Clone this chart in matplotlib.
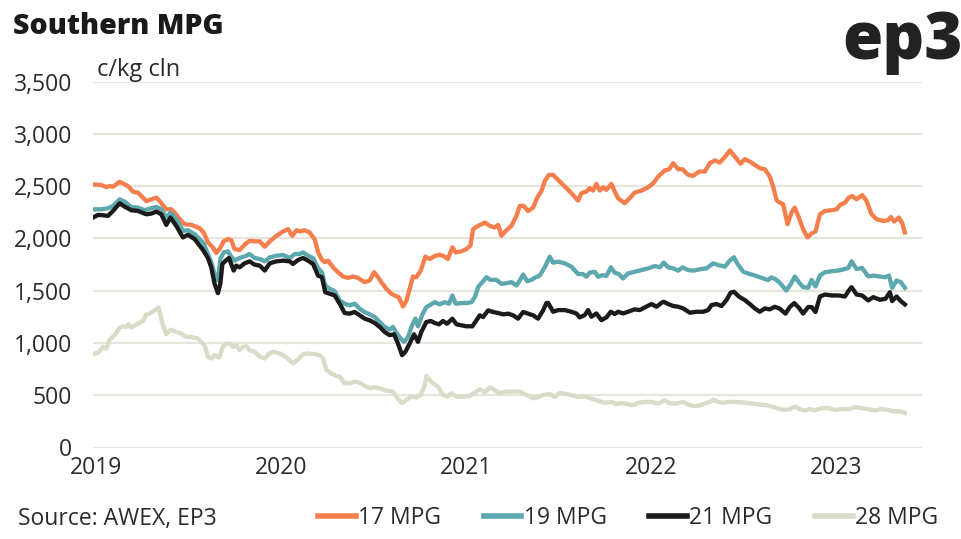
import matplotlib
matplotlib.use("Agg")
import matplotlib.pyplot as plt
from matplotlib.lines import Line2D

# ---- data (decimal years, c/kg clean) ----
t17 = [2018.986, 2019.031, 2019.058, 2019.076, 2019.094, 2019.130, 2019.157, 2019.175, 2019.202, 2019.229,
       2019.274, 2019.301, 2019.328, 2019.346, 2019.382, 2019.409, 2019.427, 2019.463, 2019.481, 2019.517,
       2019.562, 2019.584, 2019.607, 2019.634, 2019.652, 2019.670, 2019.692, 2019.715, 2019.733, 2019.751,
       2019.778, 2019.805, 2019.832, 2019.859, 2019.887, 2019.914, 2019.941, 2019.977, 2020.013, 2020.040,
       2020.063, 2020.085, 2020.103, 2020.130, 2020.157, 2020.184, 2020.202, 2020.220, 2020.238, 2020.256,
       2020.283, 2020.310, 2020.337, 2020.364, 2020.391, 2020.418, 2020.454, 2020.481, 2020.505, 2020.526,
       2020.544, 2020.571, 2020.598, 2020.616, 2020.638, 2020.661, 2020.679, 2020.697, 2020.715, 2020.733,
       2020.757, 2020.782, 2020.805, 2020.832, 2020.859, 2020.886, 2020.904, 2020.928, 2020.946, 2020.977,
       2021.004, 2021.025, 2021.040, 2021.067, 2021.103, 2021.130, 2021.157, 2021.175, 2021.193, 2021.220,
       2021.247, 2021.274, 2021.292, 2021.313, 2021.337, 2021.364, 2021.386, 2021.409, 2021.427, 2021.449,
       2021.472, 2021.499, 2021.535, 2021.571, 2021.607, 2021.625, 2021.652, 2021.670, 2021.688, 2021.706,
       2021.724, 2021.742, 2021.760, 2021.787, 2021.805, 2021.823, 2021.859, 2021.886, 2021.913, 2021.950,
       2021.986, 2022.013, 2022.040, 2022.076, 2022.099, 2022.121, 2022.148, 2022.171, 2022.202, 2022.229,
       2022.261, 2022.292, 2022.319, 2022.346, 2022.373, 2022.400, 2022.427, 2022.454, 2022.485, 2022.508,
       2022.535, 2022.562, 2022.589, 2022.616, 2022.643, 2022.661, 2022.679, 2022.688, 2022.715, 2022.739,
       2022.760, 2022.778, 2022.800, 2022.823, 2022.847, 2022.869, 2022.890, 2022.914, 2022.941, 2022.977,
       2023.004, 2023.022, 2023.049, 2023.070, 2023.088, 2023.112, 2023.142, 2023.166, 2023.193, 2023.220,
       2023.256, 2023.283, 2023.297, 2023.315, 2023.341, 2023.359, 2023.373]
v17 = [2516, 2510, 2490, 2500, 2494, 2541, 2516, 2500, 2446, 2437,
       2357, 2373, 2389, 2357, 2278, 2278, 2246, 2167, 2135, 2129,
       2097, 2056, 1961, 1914, 1860, 1898, 1971, 1993, 1983, 1898,
       1888, 1939, 1977, 1971, 1971, 1920, 1971, 2024, 2066, 2088,
       2024, 2078, 2066, 2078, 2056, 1990, 1870, 1803, 1771, 1787,
       1723, 1676, 1635, 1622, 1635, 1622, 1581, 1597, 1676, 1628,
       1581, 1518, 1470, 1454, 1438, 1349, 1400, 1518, 1635, 1628,
       1692, 1825, 1803, 1830, 1844, 1825, 1803, 1914, 1866, 1876,
       1898, 1929, 2088, 2120, 2151, 2120, 2104, 2129, 2025, 2078,
       2120, 2215, 2310, 2310, 2262, 2294, 2389, 2452, 2548, 2607,
       2607, 2559, 2496, 2432, 2361, 2432, 2448, 2480, 2457, 2521,
       2457, 2489, 2464, 2521, 2448, 2384, 2336, 2384, 2438, 2457,
       2489, 2527, 2591, 2650, 2661, 2719, 2661, 2661, 2607, 2598,
       2639, 2639, 2719, 2745, 2725, 2777, 2840, 2783, 2713, 2757,
       2735, 2703, 2671, 2661, 2591, 2496, 2368, 2351, 2326, 2135,
       2246, 2294, 2199, 2088, 2009, 2047, 2066, 2231, 2262, 2269,
       2278, 2319, 2341, 2389, 2405, 2373, 2414, 2357, 2231, 2183,
       2167, 2173, 2205, 2161, 2199, 2142, 2056]

t19 = [2018.986, 2019.031, 2019.067, 2019.094, 2019.130, 2019.157, 2019.193, 2019.229, 2019.265, 2019.301,
       2019.328, 2019.355, 2019.382, 2019.405, 2019.436, 2019.472, 2019.499, 2019.535, 2019.571, 2019.584,
       2019.607, 2019.625, 2019.643, 2019.661, 2019.674, 2019.692, 2019.715, 2019.733, 2019.751, 2019.778,
       2019.814, 2019.832, 2019.859, 2019.887, 2019.914, 2019.941, 2019.977, 2020.013, 2020.049, 2020.076,
       2020.103, 2020.121, 2020.148, 2020.175, 2020.202, 2020.223, 2020.241, 2020.265, 2020.292, 2020.319,
       2020.346, 2020.373, 2020.400, 2020.427, 2020.454, 2020.481, 2020.508, 2020.535, 2020.562, 2020.589,
       2020.607, 2020.625, 2020.649, 2020.667, 2020.688, 2020.710, 2020.728, 2020.742, 2020.764, 2020.787,
       2020.805, 2020.832, 2020.859, 2020.886, 2020.910, 2020.928, 2020.946, 2020.977, 2021.004, 2021.031,
       2021.049, 2021.067, 2021.085, 2021.112, 2021.133, 2021.166, 2021.193, 2021.220, 2021.247, 2021.274,
       2021.292, 2021.310, 2021.332, 2021.355, 2021.378, 2021.400, 2021.427, 2021.454, 2021.472, 2021.499,
       2021.535, 2021.571, 2021.607, 2021.634, 2021.652, 2021.670, 2021.697, 2021.715, 2021.742, 2021.760,
       2021.784, 2021.805, 2021.827, 2021.850, 2021.877, 2021.913, 2021.950, 2021.986, 2022.022, 2022.049,
       2022.070, 2022.094, 2022.121, 2022.148, 2022.171, 2022.202, 2022.229, 2022.265, 2022.301, 2022.337,
       2022.364, 2022.400, 2022.427, 2022.449, 2022.467, 2022.499, 2022.535, 2022.571, 2022.607, 2022.634,
       2022.652, 2022.675, 2022.694, 2022.733, 2022.757, 2022.778, 2022.800, 2022.823, 2022.850, 2022.869,
       2022.890, 2022.914, 2022.941, 2022.977, 2023.013, 2023.049, 2023.067, 2023.085, 2023.112, 2023.142,
       2023.175, 2023.202, 2023.238, 2023.265, 2023.287, 2023.304, 2023.328, 2023.351, 2023.373]
v19 = [2278, 2278, 2288, 2310, 2373, 2351, 2300, 2294, 2269, 2288,
       2300, 2278, 2199, 2246, 2183, 2072, 2078, 2040, 1977, 1952,
       1850, 1771, 1660, 1597, 1803, 1866, 1876, 1825, 1787, 1812,
       1834, 1850, 1812, 1803, 1780, 1818, 1834, 1841, 1812, 1850,
       1850, 1866, 1834, 1812, 1715, 1676, 1549, 1518, 1495, 1406,
       1375, 1359, 1375, 1327, 1295, 1273, 1248, 1200, 1153, 1127,
       1153, 1096, 1042, 1010, 1058, 1169, 1232, 1159, 1264, 1343,
       1359, 1390, 1368, 1390, 1375, 1454, 1375, 1381, 1381, 1390,
       1438, 1533, 1571, 1628, 1603, 1603, 1565, 1571, 1581, 1549,
       1597, 1654, 1590, 1603, 1628, 1644, 1723, 1825, 1768, 1777,
       1761, 1729, 1659, 1659, 1633, 1672, 1681, 1633, 1649, 1640,
       1723, 1672, 1659, 1617, 1665, 1681, 1697, 1713, 1736, 1723,
       1768, 1723, 1713, 1691, 1723, 1697, 1691, 1704, 1713, 1761,
       1745, 1729, 1787, 1819, 1761, 1681, 1659, 1640, 1617, 1601,
       1627, 1608, 1580, 1501, 1565, 1635, 1581, 1533, 1527, 1603,
       1540, 1644, 1676, 1685, 1692, 1707, 1717, 1780, 1707, 1717,
       1635, 1644, 1635, 1628, 1644, 1527, 1597, 1581, 1527]

t21 = [2018.986, 2019.013, 2019.040, 2019.067, 2019.094, 2019.130, 2019.157, 2019.193, 2019.229, 2019.274,
       2019.301, 2019.328, 2019.355, 2019.382, 2019.405, 2019.436, 2019.472, 2019.499, 2019.535, 2019.580,
       2019.607, 2019.625, 2019.643, 2019.661, 2019.674, 2019.685, 2019.703, 2019.721, 2019.733, 2019.746,
       2019.760, 2019.778, 2019.805, 2019.832, 2019.859, 2019.887, 2019.914, 2019.941, 2019.977, 2020.013,
       2020.049, 2020.067, 2020.094, 2020.121, 2020.148, 2020.175, 2020.202, 2020.223, 2020.241, 2020.265,
       2020.292, 2020.319, 2020.346, 2020.373, 2020.400, 2020.427, 2020.454, 2020.481, 2020.508, 2020.535,
       2020.562, 2020.589, 2020.613, 2020.634, 2020.656, 2020.674, 2020.697, 2020.721, 2020.742, 2020.760,
       2020.787, 2020.811, 2020.832, 2020.856, 2020.877, 2020.899, 2020.928, 2020.950, 2020.977, 2021.004,
       2021.036, 2021.058, 2021.076, 2021.094, 2021.121, 2021.148, 2021.175, 2021.202, 2021.229, 2021.256,
       2021.283, 2021.310, 2021.337, 2021.364, 2021.391, 2021.418, 2021.436, 2021.445, 2021.472, 2021.499,
       2021.535, 2021.571, 2021.598, 2021.616, 2021.643, 2021.661, 2021.679, 2021.706, 2021.733, 2021.760,
       2021.784, 2021.805, 2021.823, 2021.850, 2021.877, 2021.913, 2021.940, 2021.968, 2022.004, 2022.031,
       2022.058, 2022.070, 2022.094, 2022.121, 2022.148, 2022.175, 2022.211, 2022.247, 2022.283, 2022.310,
       2022.328, 2022.355, 2022.382, 2022.409, 2022.431, 2022.449, 2022.477, 2022.508, 2022.535, 2022.562,
       2022.589, 2022.616, 2022.643, 2022.670, 2022.697, 2022.728, 2022.751, 2022.775, 2022.800, 2022.823,
       2022.850, 2022.869, 2022.890, 2022.914, 2022.941, 2022.977, 2023.013, 2023.049, 2023.070, 2023.085,
       2023.112, 2023.142, 2023.175, 2023.202, 2023.238, 2023.268, 2023.292, 2023.304, 2023.328, 2023.351,
       2023.373]
v21 = [2199, 2224, 2221, 2215, 2262, 2335, 2303, 2269, 2262, 2230,
       2237, 2256, 2230, 2129, 2199, 2119, 2009, 2034, 1993, 1890,
       1812, 1723, 1565, 1476, 1565, 1755, 1787, 1812, 1755, 1692,
       1739, 1723, 1761, 1780, 1749, 1739, 1692, 1761, 1780, 1787,
       1780, 1755, 1793, 1812, 1787, 1755, 1644, 1628, 1485, 1470,
       1454, 1375, 1286, 1280, 1296, 1264, 1232, 1216, 1191, 1153,
       1105, 1074, 1083, 994, 883, 915, 994, 1083, 1010, 1105,
       1200, 1210, 1191, 1178, 1210, 1184, 1232, 1178, 1169, 1159,
       1159, 1216, 1264, 1248, 1311, 1296, 1286, 1273, 1280, 1264,
       1232, 1296, 1280, 1264, 1232, 1311, 1381, 1384, 1298, 1314,
       1314, 1298, 1282, 1244, 1266, 1314, 1250, 1282, 1218, 1244,
       1298, 1276, 1298, 1282, 1298, 1321, 1314, 1340, 1372, 1346,
       1384, 1394, 1372, 1353, 1346, 1330, 1289, 1298, 1298, 1314,
       1362, 1372, 1353, 1410, 1480, 1490, 1442, 1410, 1372, 1330,
       1298, 1330, 1321, 1346, 1327, 1280, 1343, 1381, 1337, 1280,
       1343, 1343, 1296, 1444, 1463, 1454, 1454, 1444, 1501, 1533,
       1463, 1454, 1406, 1438, 1413, 1422, 1485, 1400, 1444, 1400,
       1368]

t28 = [2018.986, 2019.013, 2019.040, 2019.058, 2019.076, 2019.103, 2019.130, 2019.148, 2019.166, 2019.178,
       2019.193, 2019.229, 2019.256, 2019.274, 2019.292, 2019.319, 2019.341, 2019.359, 2019.382, 2019.405,
       2019.436, 2019.463, 2019.490, 2019.517, 2019.553, 2019.562, 2019.589, 2019.607, 2019.625, 2019.643,
       2019.667, 2019.688, 2019.706, 2019.728, 2019.742, 2019.760, 2019.778, 2019.796, 2019.814, 2019.832,
       2019.859, 2019.887, 2019.914, 2019.941, 2019.968, 2020.004, 2020.031, 2020.067, 2020.094, 2020.121,
       2020.148, 2020.184, 2020.211, 2020.229, 2020.247, 2020.274, 2020.301, 2020.319, 2020.346, 2020.373,
       2020.400, 2020.427, 2020.454, 2020.481, 2020.508, 2020.535, 2020.571, 2020.607, 2020.631, 2020.656,
       2020.679, 2020.706, 2020.733, 2020.757, 2020.778, 2020.787, 2020.805, 2020.823, 2020.850, 2020.877,
       2020.904, 2020.922, 2020.950, 2020.986, 2021.022, 2021.049, 2021.076, 2021.103, 2021.130, 2021.157,
       2021.184, 2021.220, 2021.256, 2021.292, 2021.328, 2021.364, 2021.391, 2021.418, 2021.454, 2021.481,
       2021.508, 2021.535, 2021.571, 2021.607, 2021.643, 2021.679, 2021.715, 2021.751, 2021.787, 2021.814,
       2021.841, 2021.877, 2021.904, 2021.931, 2021.968, 2022.004, 2022.040, 2022.076, 2022.103, 2022.139,
       2022.175, 2022.211, 2022.247, 2022.283, 2022.319, 2022.337, 2022.364, 2022.391, 2022.418, 2022.463,
       2022.517, 2022.571, 2022.625, 2022.661, 2022.697, 2022.724, 2022.751, 2022.778, 2022.805, 2022.832,
       2022.859, 2022.887, 2022.923, 2022.959, 2022.995, 2023.031, 2023.067, 2023.103, 2023.139, 2023.175,
       2023.211, 2023.247, 2023.283, 2023.310, 2023.346, 2023.373]
v28 = [893, 905, 962, 946, 1032, 1073, 1146, 1159, 1152, 1178,
       1146, 1184, 1210, 1273, 1280, 1311, 1337, 1200, 1083, 1127,
       1105, 1089, 1057, 1057, 1042, 1026, 978, 867, 851, 883,
       861, 962, 994, 994, 962, 978, 931, 962, 969, 931,
       915, 867, 851, 905, 915, 893, 861, 804, 842, 893,
       899, 893, 883, 851, 741, 709, 684, 678, 614, 614,
       630, 620, 589, 566, 576, 566, 544, 535, 471, 424,
       456, 487, 478, 503, 589, 684, 646, 614, 582, 503,
       487, 519, 487, 487, 493, 525, 557, 525, 576, 550,
       519, 535, 535, 535, 503, 471, 481, 503, 510, 484,
       522, 516, 500, 484, 490, 468, 446, 427, 436, 414,
       427, 414, 404, 427, 436, 436, 420, 452, 420, 420,
       436, 404, 395, 414, 436, 458, 436, 427, 436, 436,
       427, 414, 404, 388, 367, 360, 367, 392, 367, 354,
       367, 354, 376, 376, 360, 367, 367, 386, 376, 367,
       354, 367, 360, 345, 345, 329]

series_names = ["17 MPG", "19 MPG", "21 MPG", "28 MPG"]
series_colors = ["#F47E4C", "#5DA7AE", "#1B1B1B", "#DADBC8"]
year_ticks = [2019, 2020, 2021, 2022, 2023]
year_labels = ["2019", "2020", "2021", "2022", "2023"]
y_ticks = [0, 500, 1000, 1500, 2000, 2500, 3000, 3500]
y_labels = ["0", "500", "1,000", "1,500", "2,000", "2,500", "3,000", "3,500"]

plt.rcParams["font.family"] = ["Open Sans", "DejaVu Sans"]
TXT = "#2b2b2b"
FS = 16.5

fig = plt.figure(figsize=(9.62, 5.39), dpi=100)
W, H = 962, 539
ax = fig.add_axes([93 / W, 1 - 447.5 / H, (922 - 93) / W, (447.5 - 81.5) / H])

lw = 3.1
ax.plot(t28, v28, color=series_colors[3], lw=lw, solid_joinstyle="round", zorder=3)
ax.plot(t17, v17, color=series_colors[0], lw=lw, solid_joinstyle="round", zorder=4)
ax.plot(t19, v19, color=series_colors[1], lw=lw, solid_joinstyle="round", zorder=5)
ax.plot(t21, v21, color=series_colors[2], lw=lw, solid_joinstyle="round", zorder=6)

ax.set_xlim(2018.986, 2018.986 + (922 - 93.3) / 185)
ax.set_ylim(0, 3500)
ax.set_yticks(y_ticks)
ax.set_yticklabels(y_labels)
ax.set_xticks(year_ticks)
ax.set_xticklabels(year_labels)
ax.yaxis.grid(True, color="#E8E6DC", lw=1.6)
ax.set_axisbelow(True)
for s in ax.spines.values():
    s.set_visible(False)
ax.tick_params(axis="both", length=0, labelsize=FS, colors=TXT)
ax.tick_params(axis="y", pad=15)
ax.tick_params(axis="x", pad=6)

fig.text(13 / W, 1 - 26 / H, "Southern MPG", fontsize=20.5, fontweight=800,
         color="#1a1a1a", ha="left", va="center")
fig.text(963 / W, 1 - 42 / H, "ep3", fontsize=47, fontweight=800,
         color="#222222", ha="right", va="center")
fig.text(97 / W, 1 - 70 / H, "c/kg cln", fontsize=FS + 0.5, color=TXT, ha="left", va="center")
fig.text(18 / W, 1 - 519 / H, "Source: AWEX, EP3", fontsize=FS, color=TXT,
         ha="left", va="center")

handles = [Line2D([0], [0], color=c, lw=4) for c in series_colors]
fig.legend(handles, series_names, loc="center", bbox_to_anchor=(628 / W, 1 - 518 / H),
           ncol=4, frameon=False, fontsize=FS, handlelength=1.65, handletextpad=0.1,
           columnspacing=1.85, labelcolor=TXT)

fig.savefig("out.png", dpi=100)
